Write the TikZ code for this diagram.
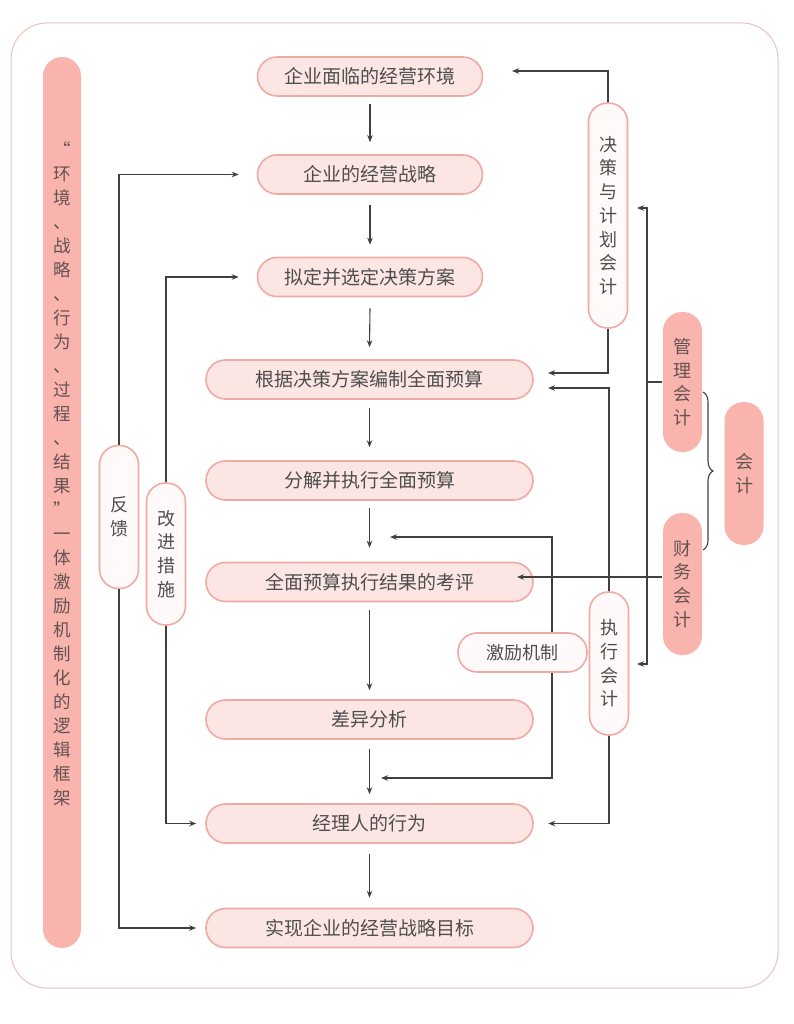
\documentclass[tikz,border=0pt]{standalone}
\usepackage{fontspec}
\setmainfont{Noto Sans CJK SC}
\usetikzlibrary{arrows.meta,decorations.pathreplacing}
\definecolor{boxfill}{HTML}{FCE6E4}
\definecolor{boxline}{HTML}{F0AAA3}
\definecolor{salmon}{HTML}{F8B4AD}
\definecolor{txt}{HTML}{4E4E4E}
\definecolor{bartxt}{HTML}{665252}
\definecolor{framecol}{HTML}{EBC2BC}
\definecolor{wirecol}{HTML}{404040}
\definecolor{pale}{HTML}{FFF9F9}
\begin{document}
\begin{tikzpicture}[x=1pt,y=-1pt,
  hbox/.style={draw=boxline, fill=boxfill, line width=1.6pt, rounded corners=19.5pt, minimum height=39pt, inner sep=0pt, text=txt, font=\fontsize{19pt}{23pt}\selectfont},
  vbox/.style={draw=boxline, fill=pale, line width=1.6pt, rounded corners=19pt, minimum width=39pt, inner sep=0pt, text=txt, align=center, font=\fontsize{18pt}{23.7pt}\selectfont},
  sbox/.style={vbox, draw=none, fill=salmon, text=bartxt},
  wire/.style={draw=wirecol, line width=1.1pt},
  arr/.style={wire, -{Stealth[length=7pt,width=5.5pt]}},
]
\useasboundingbox (0,0) rectangle (794,1024);
\fill[white] (0,0) rectangle (794,1024);
\draw[framecol, fill=white, line width=1pt, rounded corners=36pt] (11,23) rectangle (778,988);

% left bar
\node[fill=salmon, rounded corners=19pt, minimum width=38pt, minimum height=891pt, inner sep=0pt] (bar) at (62,502.5) {};
\node[text=bartxt, align=center, font=\fontsize{17.5pt}{24pt}\selectfont, inner sep=0pt] (bartext) at (62,474)
 {“\\环\\境\\、\\战\\略\\、\\行\\为\\、\\过\\程\\、\\结\\果\\”\\一\\体\\激\\励\\机\\制\\化\\的\\逻\\辑\\框\\架};

% main boxes
\node[hbox, minimum width=225pt] (b1) at (370,76.5) {企业面临的经营环境};
\node[hbox, minimum width=225pt] (b2) at (370,174.5) {企业的经营战略};
\node[hbox, minimum width=225pt] (b3) at (370,277) {拟定并选定决策方案};
\node[hbox, minimum width=327pt] (b4) at (369.5,379.5) {根据决策方案编制全面预算};
\node[hbox, minimum width=327pt] (b5) at (369.5,480.5) {分解并执行全面预算};
\node[hbox, minimum width=327pt] (b6) at (369.5,582) {全面预算执行结果的考评};
\node[hbox, minimum width=327pt] (b7) at (369.5,719.5) {差异分析};
\node[hbox, minimum width=327pt] (b8) at (369.5,823.5) {经理人的行为};
\node[hbox, minimum width=327pt] (b9) at (369.5,928) {实现企业的经营战略目标};

% side nodes
\node[vbox, minimum height=143pt] (fk) at (119,517) {反\\馈};
\node[vbox, minimum height=142pt] (gj) at (166,554) {改\\进\\措\\施};
\node[vbox, minimum height=225pt] (jc) at (608,215.5) {决\\策\\与\\计\\划\\会\\计};
\node[vbox, minimum height=143pt] (zx) at (609,663.5) {执\\行\\会\\计};
\node[vbox, minimum width=129pt, minimum height=39pt, font=\fontsize{18pt}{22pt}\selectfont] (jl) at (522.5,652.5) {激励机制};
\node[sbox, minimum height=140pt] (gl) at (682.5,382) {管\\理\\会\\计};
\node[sbox, minimum height=142pt] (cw) at (682.5,584) {财\\务\\会\\计};
\node[sbox, minimum height=143pt] (kj) at (744,473.5) {会\\计};

% vertical flow arrows
\draw[arr] ([yshift=-7pt]b1.south) -- ([yshift=12pt]b2.north);
\draw[arr] ([yshift=-10pt]b2.south) -- ([yshift=12pt]b3.north);
\draw[arr] ([yshift=-11pt]b3.south) -- ([yshift=12pt]b4.north);
\draw[arr] ([yshift=-8pt]b4.south) -- ([yshift=13pt]b5.north);
\draw[arr] ([yshift=-7pt]b5.south) -- ([yshift=14pt]b6.north);
\draw[arr] ([yshift=-8pt]b6.south) -- ([yshift=9pt]b7.north);
\draw[arr] ([yshift=-9pt]b7.south) -- ([yshift=9pt]b8.north);
\draw[arr] ([yshift=-10pt]b8.south) -- ([yshift=10pt]b9.north);

% left feedback loops
\draw[arr] (fk.north) |- ([xshift=-18pt]b2.west);
\draw[arr] (fk.south) |- ([xshift=-9pt]b9.west);
\draw[arr] (gj.north) |- ([xshift=-18pt]b3.west);
\draw[arr] (gj.south) |- ([xshift=-9pt]b8.west);

% right side connectors
\coordinate (t1) at (512,71);
\coordinate (t4a) at (548,373);
\coordinate (t4b) at (548,388);
\coordinate (t5) at (390,537);
\coordinate (t6) at (517,577);
\coordinate (t7) at (381,778);
\coordinate (pA) at (637,208);
\coordinate (pB) at (637,664);
\draw[arr] (jc.north) |- (t1);
\draw[arr] (jc.south) |- (t4a);
\draw[arr] (zx.north) |- (t4b);
\draw[arr] (zx.south) |- ([xshift=14.5pt]b8.east);
\draw[arr] ([xshift=29.5pt]jl.north) |- (t5);
\draw[arr] ([xshift=29.5pt]jl.south) |- (t7);
\draw[wire, {Stealth[length=7pt,width=5.5pt]}-{Stealth[length=7pt,width=5.5pt]}] (pA) -- ++(10,0) |- (pB);
\draw[wire] (gl.west) -- ++(-16,0);
\draw[arr] (cw.west |- t6) -- (t6);

% brace
\coordinate (brA) at (703,392);
\coordinate (brB) at (703,550);
\draw[wire, decorate, decoration={brace, amplitude=10pt}] (brA) -- (brB);
\end{tikzpicture}
\end{document}
